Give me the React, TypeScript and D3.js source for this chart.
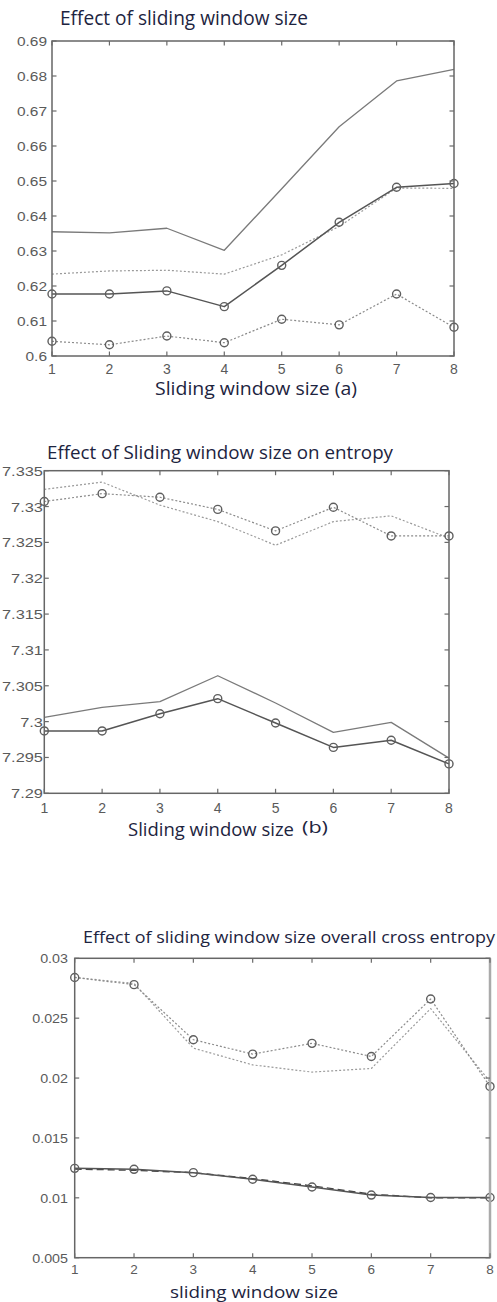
import React from "react";
import * as d3 from "d3";

// ---------- DATA ----------
const windowSizes = [1, 2, 3, 4, 5, 6, 7, 8];

// Panel (a)
const aTicks = [0.6, 0.61, 0.62, 0.63, 0.64, 0.65, 0.66, 0.67, 0.68, 0.69];
const aSolidPlain = [0.6355, 0.6352, 0.6365, 0.6302, 0.6478, 0.6655, 0.6786, 0.6819];
const aSolidCircle = [0.6177, 0.6177, 0.6186, 0.6141, 0.6259, 0.6382, 0.6482, 0.6493];
const aDottedPlain = [0.6234, 0.6243, 0.6245, 0.6234, 0.6289, 0.637, 0.648, 0.6479];
const aDottedCircle = [0.6042, 0.6032, 0.6057, 0.6038, 0.6105, 0.6089, 0.6177, 0.6082];

// Panel (b)
const bTicks = [7.29, 7.295, 7.3, 7.305, 7.31, 7.315, 7.32, 7.325, 7.33, 7.335];
const bDottedCircle = [7.3307, 7.3318, 7.3313, 7.3296, 7.3266, 7.3299, 7.3259, 7.3259];
const bDottedPlain = [7.3324, 7.3334, 7.3302, 7.3279, 7.3246, 7.3279, 7.3287, 7.3256];
const bSolidPlain = [7.3006, 7.302, 7.3028, 7.3064, 7.3026, 7.2985, 7.2999, 7.2949];
const bSolidCircle = [7.2987, 7.2987, 7.3011, 7.3032, 7.2998, 7.2964, 7.2974, 7.2941];

// Panel (c)
const cTicks = [0.005, 0.01, 0.015, 0.02, 0.025, 0.03];
const cDottedCircle = [0.0284, 0.0278, 0.0232, 0.022, 0.0229, 0.0218, 0.0266, 0.0193];
const cDottedPlain = [0.0284, 0.0279, 0.0225, 0.0211, 0.0205, 0.0208, 0.0258, 0.0197];
const cSolidCircle = [0.01246, 0.01238, 0.0121, 0.01155, 0.0109, 0.01023, 0.01003, 0.01003];
const cSolidPlain = [0.0124, 0.0123, 0.0121, 0.0116, 0.011, 0.0103, 0.01, 0.01];

// ---------- STYLES ----------
type SeriesStyle = { stroke: string; width: number; dash?: string; markers: boolean };
const SOLID_PLAIN: SeriesStyle = { stroke: "#7a7a7a", width: 1.3, markers: false };
const SOLID_CIRCLE: SeriesStyle = { stroke: "#555", width: 1.5, markers: true };
const DOTTED_PLAIN: SeriesStyle = { stroke: "#9a9a9a", width: 1.2, dash: "2,2", markers: false };
const DOTTED_CIRCLE: SeriesStyle = { stroke: "#8a8a8a", width: 1.2, dash: "2,2", markers: true };
const DASHED_DARK: SeriesStyle = { stroke: "#444", width: 1.4, dash: "7,4", markers: false };

const TITLE_COLOR = "#1d2440";
const TICK_COLOR = "#5a5a5a";

function labelWidth(s: string, fs: number) {
  let w = 0;
  for (const ch of s) w += ch === "." ? 0.278 : 0.556;
  return w * fs;
}

type Series = { values: number[]; style: SeriesStyle };

type PanelProps = {
  left: number; right: number; top: number; bottom: number;
  domain: [number, number];
  ticks: number[];
  series: Series[];
  tickStretch: number;
  labelRight: number;
  xLabelBaseline: number;
  xTickFs?: number;
  title: string; titleX: number; titleY: number; titleW: number; titleFs: number;
  xTitle: string; xTitleX: number; xTitleY: number; xTitleW: number; xTitleFs: number;
  extra?: React.ReactNode;
  rightStroke?: { color: string; width: number };
};

function Panel(p: PanelProps) {
  const x = d3.scaleLinear().domain([1, 8]).range([p.left, p.right]);
  const y = d3.scaleLinear().domain(p.domain).range([p.bottom, p.top]);
  const line = d3.line<number>().x((_, i) => x(windowSizes[i])).y((v) => y(v));
  const tl = 4.5;
  const fmt = (v: number) => String(+v.toFixed(3));
  const yfs = 13;
  return (
    <g>
      <text x={p.titleX} y={p.titleY} fontFamily="'Open Sans', Lato, sans-serif" fontSize={p.titleFs}
        fill={TITLE_COLOR} textLength={p.titleW} lengthAdjust="spacingAndGlyphs">{p.title}</text>
      {p.series.map((s, si) => (
        <g key={si}>
          <path d={line(s.values) || ""} fill="none" stroke={s.style.stroke} strokeWidth={s.style.width}
            strokeDasharray={s.style.dash} strokeLinejoin="round" />
          {s.style.markers && s.values.map((v, i) => (
            <circle key={i} cx={x(windowSizes[i])} cy={y(v)} r={4} fill="none" stroke="#5e5e5e" strokeWidth={1.4} />
          ))}
        </g>
      ))}
      <rect x={p.left} y={p.top} width={p.right - p.left} height={p.bottom - p.top} fill="none" stroke="#666" strokeWidth={1.5} />
      {p.rightStroke && (
        <line x1={p.right} x2={p.right} y1={p.top} y2={p.bottom} stroke={p.rightStroke.color} strokeWidth={p.rightStroke.width} />
      )}
      {windowSizes.map((w) => (
        <g key={"xt" + w}>
          <line x1={x(w)} x2={x(w)} y1={p.bottom} y2={p.bottom - tl} stroke="#6a6a6a" strokeWidth={1.2} />
          <line x1={x(w)} x2={x(w)} y1={p.top} y2={p.top + tl} stroke="#6a6a6a" strokeWidth={1.2} />
          <text x={x(w)} y={p.xLabelBaseline} textAnchor="middle" fontFamily="'Liberation Sans', Arial, sans-serif"
            fontSize={p.xTickFs ?? 14} fill={TICK_COLOR}>{w}</text>
        </g>
      ))}
      {p.ticks.map((t) => {
        const lab = fmt(t);
        const w = labelWidth(lab, yfs) * p.tickStretch;
        return (
          <g key={"yt" + t}>
            <line x1={p.left} x2={p.left + tl} y1={y(t)} y2={y(t)} stroke="#6a6a6a" strokeWidth={1.2} />
            <line x1={p.right} x2={p.right - tl} y1={y(t)} y2={y(t)} stroke="#6a6a6a" strokeWidth={1.2} />
            <text x={p.labelRight - w} y={y(t) + 5} fontFamily="'Liberation Sans', Arial, sans-serif"
              fontSize={yfs} fill={TICK_COLOR} textLength={w} lengthAdjust="spacingAndGlyphs">{lab}</text>
          </g>
        );
      })}
      <text x={p.xTitleX} y={p.xTitleY} fontFamily="'Open Sans', Lato, sans-serif" fontSize={p.xTitleFs}
        fill={TITLE_COLOR} textLength={p.xTitleW} lengthAdjust="spacingAndGlyphs">{p.xTitle}</text>
      {p.extra}
    </g>
  );
}

export default function App() {
  return (
    <svg width={497} height={1302} style={{ position: "absolute", left: 0, top: 0, background: "#fff" }}>
      <rect x={0} y={0} width={497} height={1302} fill="#fff" />
      <Panel
        left={52} right={454} top={41} bottom={356}
        domain={[0.6, 0.69]} ticks={aTicks} tickStretch={1.19} labelRight={47}
        xLabelBaseline={374}
        series={[
          { values: aSolidPlain, style: SOLID_PLAIN },
          { values: aDottedPlain, style: DOTTED_PLAIN },
          { values: aSolidCircle, style: SOLID_CIRCLE },
          { values: aDottedCircle, style: DOTTED_CIRCLE },
        ]}
        title="Effect of sliding window size" titleX={60} titleY={25} titleW={248} titleFs={19.5}
        xTitle="Sliding window size (a)" xTitleX={155} xTitleY={395} xTitleW={202} xTitleFs={17.5}
      />
      <Panel
        left={44.3} right={449} top={470.7} bottom={793.3}
        domain={[7.29, 7.335]} ticks={bTicks} tickStretch={1.26} labelRight={43}
        xLabelBaseline={813}
        series={[
          { values: bDottedPlain, style: DOTTED_PLAIN },
          { values: bDottedCircle, style: DOTTED_CIRCLE },
          { values: bSolidPlain, style: SOLID_PLAIN },
          { values: bSolidCircle, style: SOLID_CIRCLE },
        ]}
        title="Effect of Sliding window size on entropy" titleX={47} titleY={459} titleW={346} titleFs={18.5}
        xTitle="Sliding window size" xTitleX={128} xTitleY={836} xTitleW={166} xTitleFs={17.5}
        extra={<text x={302} y={833} fontFamily="'Open Sans', Lato, sans-serif" fontSize={17} fill={TITLE_COLOR}
          textLength={26} lengthAdjust="spacingAndGlyphs">(b)</text>}
      />
      <Panel
        left={74.7} right={490} top={958.3} bottom={1257.7}
        domain={[0.005, 0.03]} ticks={cTicks} tickStretch={1.1} labelRight={68}
        xLabelBaseline={1274} xTickFs={13.5}
        series={[
          { values: cDottedPlain, style: DOTTED_PLAIN },
          { values: cDottedCircle, style: DOTTED_CIRCLE },
          { values: cSolidPlain, style: DASHED_DARK },
          { values: cSolidCircle, style: SOLID_CIRCLE },
        ]}
        rightStroke={{ color: "#aaa", width: 2.5 }}
        title="Effect of sliding window size overall cross entropy" titleX={83} titleY={943} titleW={412} titleFs={17}
        xTitle="sliding window size" xTitleX={170} xTitleY={1297.5} xTitleW={168} xTitleFs={16.5}
      />
    </svg>
  );
}
